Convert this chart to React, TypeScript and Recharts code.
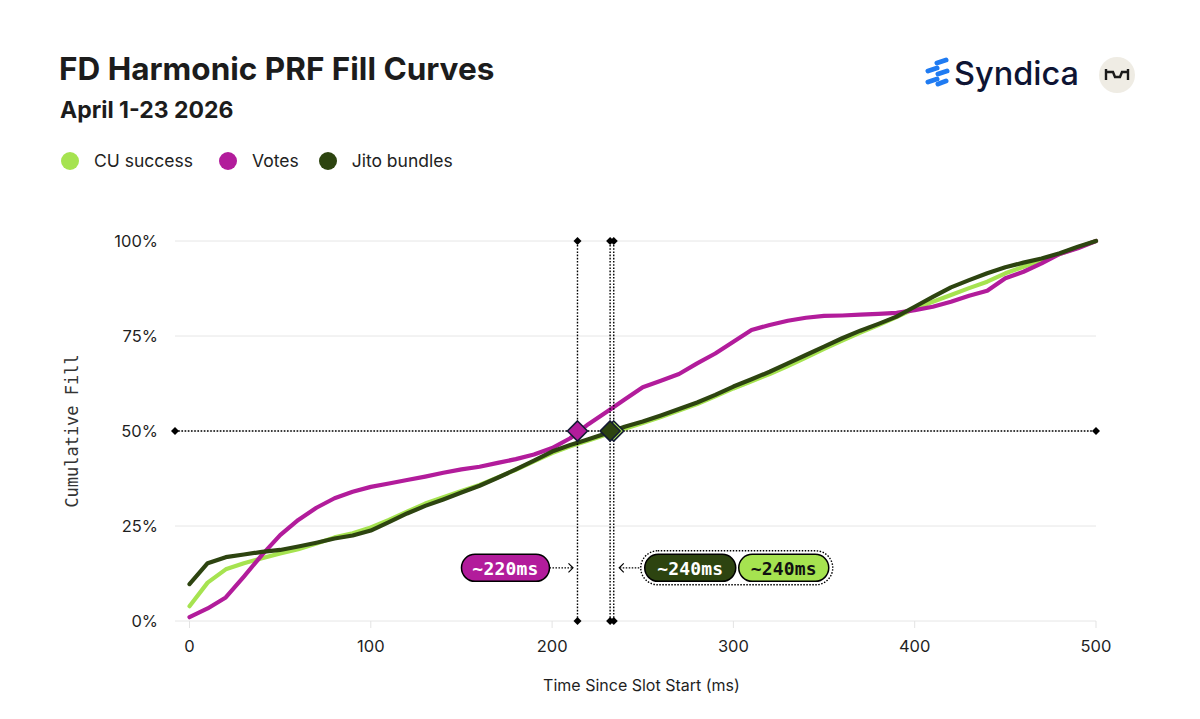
import { CartesianGrid, Line, LineChart, ReferenceDot, ReferenceLine, XAxis, YAxis } from "recharts"

const timesMs = [
  0, 10, 20, 30, 40, 50, 60, 70, 80, 90, 100, 110, 120, 130, 140, 150, 160, 170, 180, 190, 200, 210, 220, 230, 240, 250,
  260, 270, 280, 290, 300, 310, 320, 330, 340, 350, 360, 370, 380, 390, 400, 410, 420, 430, 440, 450, 460, 470, 480, 490,
  500,
]

const cuSuccess = [
  3.9, 10.1, 13.6, 15.2, 16.5, 17.8, 18.9, 20.4, 22.0, 23.1, 24.6, 26.6, 28.8, 30.9, 32.6, 34.2, 35.8, 37.8, 39.8, 42.0,
  44.2, 46.0, 47.5, 49.1, 50.6, 52.1, 53.7, 55.4, 57.1, 59.1, 61.2, 63.1, 65.0, 67.1, 69.3, 71.6, 73.8, 75.9, 77.9, 80.0,
  82.2, 84.0, 85.8, 87.6, 89.3, 91.5, 93.2, 94.9, 96.6, 98.3, 100,
]

const votes = [
  1.0, 3.3, 6.2, 11.7, 17.4, 22.6, 26.6, 29.8, 32.3, 34.0, 35.3, 36.2, 37.1, 38.0, 39.0, 39.9, 40.6, 41.6, 42.6, 43.8,
  45.5, 48.1, 51.8, 55.0, 58.3, 61.5, 63.2, 65.0, 67.8, 70.4, 73.5, 76.6, 77.9, 79.0, 79.8, 80.3, 80.4, 80.6, 80.8, 81.1,
  81.8, 82.7, 84.0, 85.6, 86.9, 90.2, 91.9, 94.1, 96.6, 98.1, 100,
]

const jitoBundles = [
  9.7, 15.2, 16.8, 17.5, 18.2, 18.7, 19.6, 20.6, 21.7, 22.5, 23.8, 26.0, 28.3, 30.3, 32.0, 33.8, 35.6, 37.7, 39.9, 42.2,
  44.6, 46.3, 47.8, 49.4, 51.1, 52.5, 54.1, 55.8, 57.5, 59.5, 61.7, 63.6, 65.6, 67.8, 70.0, 72.2, 74.4, 76.4, 78.2, 80.1,
  82.7, 85.3, 87.8, 89.7, 91.5, 93.1, 94.3, 95.4, 96.8, 98.5, 100,
]

const xTicks = [0, 100, 200, 300, 400, 500]
const yTicks = [0, 25, 50, 75, 100]

const seriesKeys = ["cu", "votes", "jito"]
const seriesNames = ["CU success", "Votes", "Jito bundles"]
const seriesColors = ["#a6e350", "#b21c9b", "#2d4410"]

// where each curve crosses half fill, and the rounded labels shown for them
const fillTarget = 50
const votesCrossMs = 214
const jitoCrossMs = 232
const cuCrossMs = 234
const votesLabel = "~220ms"
const jitoLabel = "~240ms"
const cuLabel = "~240ms"
const pillLevel = 14

const data = timesMs.map((t, i) => ({ t, cu: cuSuccess[i], votes: votes[i], jito: jitoBundles[i] }))

const INK = "#1c1c1c"
const OUTLINE = "#141a33"
const MONO = "'DejaVu Sans Mono', 'Liberation Mono', monospace"
const SANS = "Inter, 'Noto Sans', sans-serif"

function diamondPath(cx: number, cy: number, r: number) {
  return `M${cx} ${cy - r} L${cx + r} ${cy} L${cx} ${cy + r} L${cx - r} ${cy} Z`
}

function DottedWithEnds(props: any) {
  const { x1, y1, x2, y2 } = props
  return (
    <g>
      <line x1={x1} y1={y1} x2={x2} y2={y2} stroke="#000" strokeWidth={1.4} strokeDasharray="1.6 1.6" />
      <path d={diamondPath(x1, y1, 4)} fill="#000" />
      <path d={diamondPath(x2, y2, 4)} fill="#000" />
    </g>
  )
}

function crossMarker(fill: string) {
  return (props: any) => (
    <path d={diamondPath(props.cx, props.cy, 10)} fill={fill} stroke={OUTLINE} strokeWidth={1.6} />
  )
}

function Pill({ x, y, w, fill, color, text }: any) {
  return (
    <g>
      <rect x={x} y={y - 13.5} width={w} height={27} rx={13.5} fill={fill} stroke="#000" strokeWidth={1.5} />
      <text
        x={x + w / 2}
        y={y + 1}
        textAnchor="middle"
        dominantBaseline="central"
        fontFamily={MONO}
        fontWeight={700}
        fontSize={18}
        letterSpacing={0.2}
        fill={color}
      >
        {text}
      </text>
    </g>
  )
}

function VotesTag(props: any) {
  const { cx, cy } = props
  return (
    <g>
      <Pill x={cx - 116} y={cy} w={88} fill={seriesColors[1]} color="#fff" text={votesLabel} />
      <line x1={cx - 28} y1={cy} x2={cx - 5} y2={cy} stroke="#000" strokeWidth={1.2} strokeDasharray="1.5 1.5" />
      <path d={`M${cx - 9} ${cy - 4.5} L${cx - 4.5} ${cy} L${cx - 9} ${cy + 4.5}`} fill="none" stroke="#000" strokeWidth={1.2} />
    </g>
  )
}

function BundleTag(props: any) {
  const { cx, cy } = props
  return (
    <g>
      <line x1={cx + 6} y1={cy} x2={cx + 27} y2={cy} stroke="#000" strokeWidth={1.2} strokeDasharray="1.5 1.5" />
      <path d={`M${cx + 10} ${cy - 4.5} L${cx + 5.5} ${cy} L${cx + 10} ${cy + 4.5}`} fill="none" stroke="#000" strokeWidth={1.2} />
      <rect
        x={cx + 27}
        y={cy - 17}
        width={192}
        height={34}
        rx={17}
        fill="#fff"
        stroke="#000"
        strokeWidth={1.4}
        strokeDasharray="1.5 1.5"
      />
      <Pill x={cx + 31} y={cy} w={91} fill={seriesColors[2]} color="#fff" text={jitoLabel} />
      <Pill x={cx + 125} y={cy} w={90} fill={seriesColors[0]} color="#111" text={cuLabel} />
    </g>
  )
}

function YTitle(props: any) {
  const { viewBox } = props
  const x = viewBox.x + 12
  const y = viewBox.y + viewBox.height / 2
  return (
    <text
      x={x}
      y={y}
      transform={`rotate(-90, ${x}, ${y})`}
      textAnchor="middle"
      dominantBaseline="central"
      fontFamily={MONO}
      fontSize={17}
      fill="#333"
    >
      Cumulative Fill
    </text>
  )
}

function SyndicaLogo() {
  return (
    <svg width={170} height={44} style={{ position: "absolute", left: 920, top: 53 }}>
      <g stroke="#1f7bf2" strokeWidth={5} strokeLinecap="round">
        <line x1={17} y1={10} x2={26} y2={7} />
        <line x1={8} y1={18} x2={17} y2={15} />
        <line x1={18} y1={21} x2={27} y2={18} />
        <line x1={8} y1={29} x2={17} y2={26} />
        <line x1={18} y1={31} x2={26} y2={28} />
      </g>
      <text x={34} y={32} fontFamily={SANS} fontSize={32.5} fontWeight={450} fill="#0e1433">
        Syndica
      </text>
    </svg>
  )
}

function Badge() {
  return (
    <svg width={40} height={40} style={{ position: "absolute", left: 1097, top: 55 }}>
      <circle cx={20} cy={20} r={18} fill="#efece4" />
      <path
        d="M9 14 V25 M9 17 H16 L18 22 H23 L25 17 H31 M31 14 V25"
        fill="none"
        stroke="#1a1a1a"
        strokeWidth={2.4}
      />
    </svg>
  )
}

export default function App() {
  return (
    <div style={{ position: "absolute", left: 0, top: 0, width: 1200, height: 719, background: "#fff", fontFamily: SANS }}>
      <div style={{ position: "absolute", left: 59, top: 50, fontSize: 31.5, fontWeight: 700, color: INK, lineHeight: "38px" }}>
        FD Harmonic PRF Fill Curves
      </div>
      <div style={{ position: "absolute", left: 60, top: 95, fontSize: 23, fontWeight: 700, color: INK, lineHeight: "30px" }}>
        April 1-23 2026
      </div>
      <SyndicaLogo />
      <Badge />

      <div style={{ position: "absolute", left: 61, top: 150, display: "flex", alignItems: "center" }}>
        {seriesNames.map((name, i) => (
          <div key={name} style={{ display: "flex", alignItems: "center", marginRight: i === 0 ? 26 : 20 }}>
            <span
              style={{ width: 18, height: 18, borderRadius: 9, background: seriesColors[i], display: "inline-block", marginRight: 15 }}
            />
            <span style={{ fontSize: 17.5, color: "#222" }}>{name}</span>
          </div>
        ))}
      </div>

      <div style={{ position: "absolute", left: 0, top: 0 }}>
        <LineChart width={1200} height={719} data={data} margin={{ top: 241, right: 104, bottom: 28, left: 60 }}>
          <CartesianGrid vertical={false} stroke="#e6e6e6" />
          <XAxis
            dataKey="t"
            type="number"
            domain={[-8, 500]}
            ticks={xTicks}
            height={70}
            axisLine={false}
            tickLine={{ stroke: "#e3e3e3" }}
            tickSize={7}
            tickMargin={12}
            tick={{ fill: "#1f1f1f", fontSize: 16.5, fontFamily: SANS }}
            label={{ value: "Time Since Slot Start (ms)", position: "insideBottom", offset: 0, dx: 6, fill: "#1f1f1f", fontSize: 16, fontFamily: SANS }}
          />
          <YAxis
            type="number"
            domain={[0, 100]}
            ticks={yTicks}
            width={115}
            axisLine={false}
            tickLine={false}
            tickSize={6}
            tickMargin={11}
            tickFormatter={(v) => `${v}%`}
            tick={{ fill: "#1f1f1f", fontSize: 16.5, fontFamily: SANS }}
            label={<YTitle />}
          />
          {seriesKeys.map((k, i) => (
            <Line
              key={k}
              type="linear"
              dataKey={k}
              name={seriesNames[i]}
              stroke={seriesColors[i]}
              strokeWidth={4.2}
              strokeLinecap="round"
              strokeLinejoin="round"
              dot={false}
              activeDot={false}
              isAnimationActive={false}
            />
          ))}
          <ReferenceLine y={fillTarget} shape={DottedWithEnds} />
          <ReferenceLine x={votesCrossMs} shape={DottedWithEnds} />
          <ReferenceLine x={jitoCrossMs} shape={DottedWithEnds} />
          <ReferenceLine x={cuCrossMs} shape={DottedWithEnds} />
          <ReferenceDot x={votesCrossMs} y={fillTarget} r={10} shape={crossMarker(seriesColors[1])} />
          <ReferenceDot x={cuCrossMs} y={fillTarget} r={10} shape={crossMarker(seriesColors[0])} />
          <ReferenceDot x={jitoCrossMs} y={fillTarget} r={10} shape={crossMarker(seriesColors[2])} />
          <ReferenceDot x={votesCrossMs} y={pillLevel} r={1} shape={VotesTag} />
          <ReferenceDot x={cuCrossMs} y={pillLevel} r={1} shape={BundleTag} />
        </LineChart>
      </div>
    </div>
  )
}
